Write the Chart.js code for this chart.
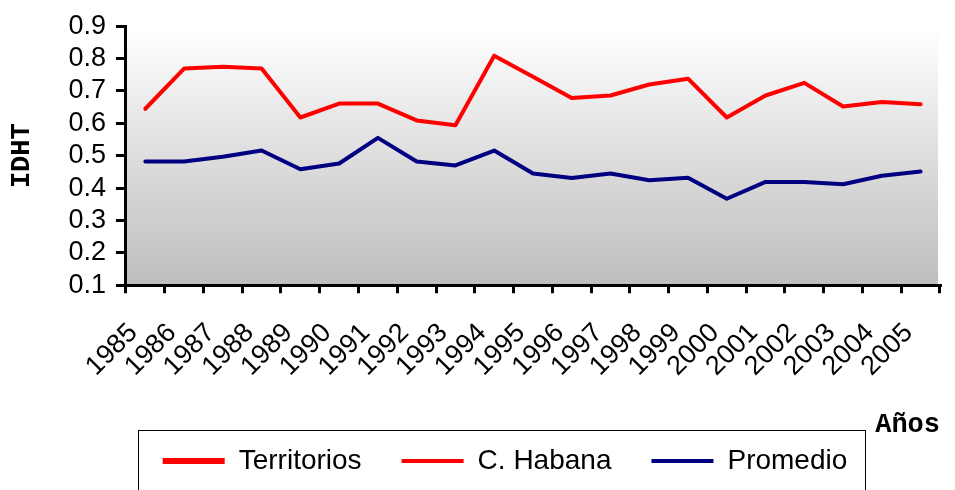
<!DOCTYPE html>
<html>
<head>
<meta charset="utf-8">
<script src="https://cdn.jsdelivr.net/npm/chart.js@4.4.0/dist/chart.umd.min.js"></script>
<style>
	html, body { margin: 0; padding: 0; background: #ffffff; }
	#wrap { width: 955px; height: 490px; }
</style>
</head>
<body>
<div id="wrap"><canvas id="IdhtChart" width="955" height="490"></canvas></div>
<script>
var years = ['1985', '1986', '1987', '1988', '1989', '1990', '1991', '1992', '1993', '1994', '1995',
	'1996', '1997', '1998', '1999', '2000', '2001', '2002', '2003', '2004', '2005'];
var territorios = [];
var habana = [0.645, 0.769, 0.775, 0.769, 0.618, 0.661, 0.661, 0.609, 0.594, 0.809, 0.744,
	0.678, 0.686, 0.720, 0.738, 0.618, 0.686, 0.725, 0.652, 0.666, 0.659];
var promedio = [0.482, 0.482, 0.497, 0.516, 0.458, 0.476, 0.555, 0.482, 0.470, 0.516, 0.445,
	0.431, 0.445, 0.424, 0.432, 0.367, 0.419, 0.419, 0.412, 0.438, 0.451];
var yTicks = [0.1, 0.2, 0.3, 0.4, 0.5, 0.6, 0.7, 0.8, 0.9];

// gray gradient behind the plot
var plotBackground = {
	id: 'plotBackground',
	beforeDraw: function (chart) {
		var a = chart.chartArea;
		var ctx = chart.ctx;
		var grad = ctx.createLinearGradient(0, a.top, 0, a.bottom);
		grad.addColorStop(0, '#ffffff');
		grad.addColorStop(1, '#bdbdbd');
		ctx.save();
		ctx.fillStyle = grad;
		ctx.fillRect(a.left, a.top, a.right - a.left - 2, a.bottom - a.top);
		ctx.restore();
	}
};

// move legend up/right and put a frame round it
var legendFrame = {
	id: 'legendFrame',
	afterLayout: function (chart) {
		chart.legend.left += 32;
		chart.legend.right += 32;
		chart.legend.top -= 34;
		chart.legend.bottom -= 34;
	},
	afterDraw: function (chart) {
		var boxes = chart.legend.legendHitBoxes;
		if (!boxes || !boxes.length) return;
		var first = boxes[0];
		var last = boxes[boxes.length - 1];
		var ctx = chart.ctx;
		ctx.save();
		ctx.strokeStyle = '#000000';
		ctx.lineWidth = 1;
		ctx.strokeRect(Math.round(first.left - 25) + 0.5, Math.round(first.top - 17) + 0.5,
			Math.round(last.left + last.width + 17 - first.left + 25), 100);
		ctx.restore();
	}
};

const data = {
	labels: years,
	datasets: [{
		label: 'Territorios',
		data: territorios,
		borderColor: '#ff0000',
		backgroundColor: '#ff0000',
		borderWidth: 6,
		borderCapStyle: 'round',
		pointRadius: 0
	}, {
		label: 'C. Habana',
		data: habana,
		borderColor: '#ff0000',
		backgroundColor: '#ff0000',
		borderWidth: 4,
		borderCapStyle: 'round',
		borderJoinStyle: 'round',
		pointRadius: 0
	}, {
		label: 'Promedio',
		data: promedio,
		borderColor: '#000080',
		backgroundColor: '#000080',
		borderWidth: 4,
		borderCapStyle: 'round',
		borderJoinStyle: 'round',
		pointRadius: 0
	}]
};

const config = {
	type: 'line',
	data: data,
	plugins: [plotBackground, legendFrame],
	options: {
		responsive: false,
		animation: false,
		layout: {
			padding: { top: 3, right: 15, left: 6, bottom: -29 }
		},
		plugins: {
			tooltip: { enabled: false },
			legend: {
				position: 'bottom',
				labels: {
					usePointStyle: true,
					pointStyle: 'line',
					pointStyleWidth: 62,
					padding: 40,
					color: '#000000',
					font: { family: '"Liberation Sans", Arial, sans-serif', size: 28 }
				}
			}
		},
		scales: {
			x: {
				offset: true,
				afterFit: function (axis) {
					axis.paddingRight = 0;
				},
				grid: {
					offset: true,
					drawOnChartArea: false,
					color: '#000000',
					tickColor: '#000000',
					tickLength: 8,
					tickWidth: 3,
					lineWidth: 3
				},
				border: { color: '#000000', width: 3 },
				ticks: {
					minRotation: 45,
					maxRotation: 45,
					autoSkip: false,
					padding: 24,
					labelOffset: -12,
					color: '#000000',
					font: { family: '"Liberation Sans", Arial, sans-serif', size: 27 }
				},
				title: {
					display: true,
					text: 'Años',
					align: 'end',
					color: '#000000',
					padding: { top: 2, bottom: 0 },
					font: { family: '"Liberation Mono", "Courier New", monospace', size: 27, weight: 'bold' }
				}
			},
			y: {
				min: 0.1,
				max: 0.9,
				afterBuildTicks: function (axis) {
					axis.ticks = yTicks.map(function (v) { return { value: v }; });
				},
				grid: {
					drawOnChartArea: false,
					color: '#000000',
					tickColor: '#000000',
					tickLength: 10,
					tickWidth: 3
				},
				border: { color: '#000000', width: 3 },
				ticks: {
					autoSkip: false,
					padding: 10,
					color: '#000000',
					callback: function (v) { return v.toFixed(1); },
					font: { family: '"Liberation Sans", Arial, sans-serif', size: 27 }
				},
				title: {
					display: true,
					text: 'IDHT',
					color: '#000000',
					padding: { top: 0, bottom: 20 },
					font: { family: '"Liberation Mono", "Courier New", monospace', size: 27, weight: 'bold' }
				}
			}
		}
	}
};

var idhtChart = new Chart(document.getElementById('IdhtChart'), config);
</script>
</body>
</html>
